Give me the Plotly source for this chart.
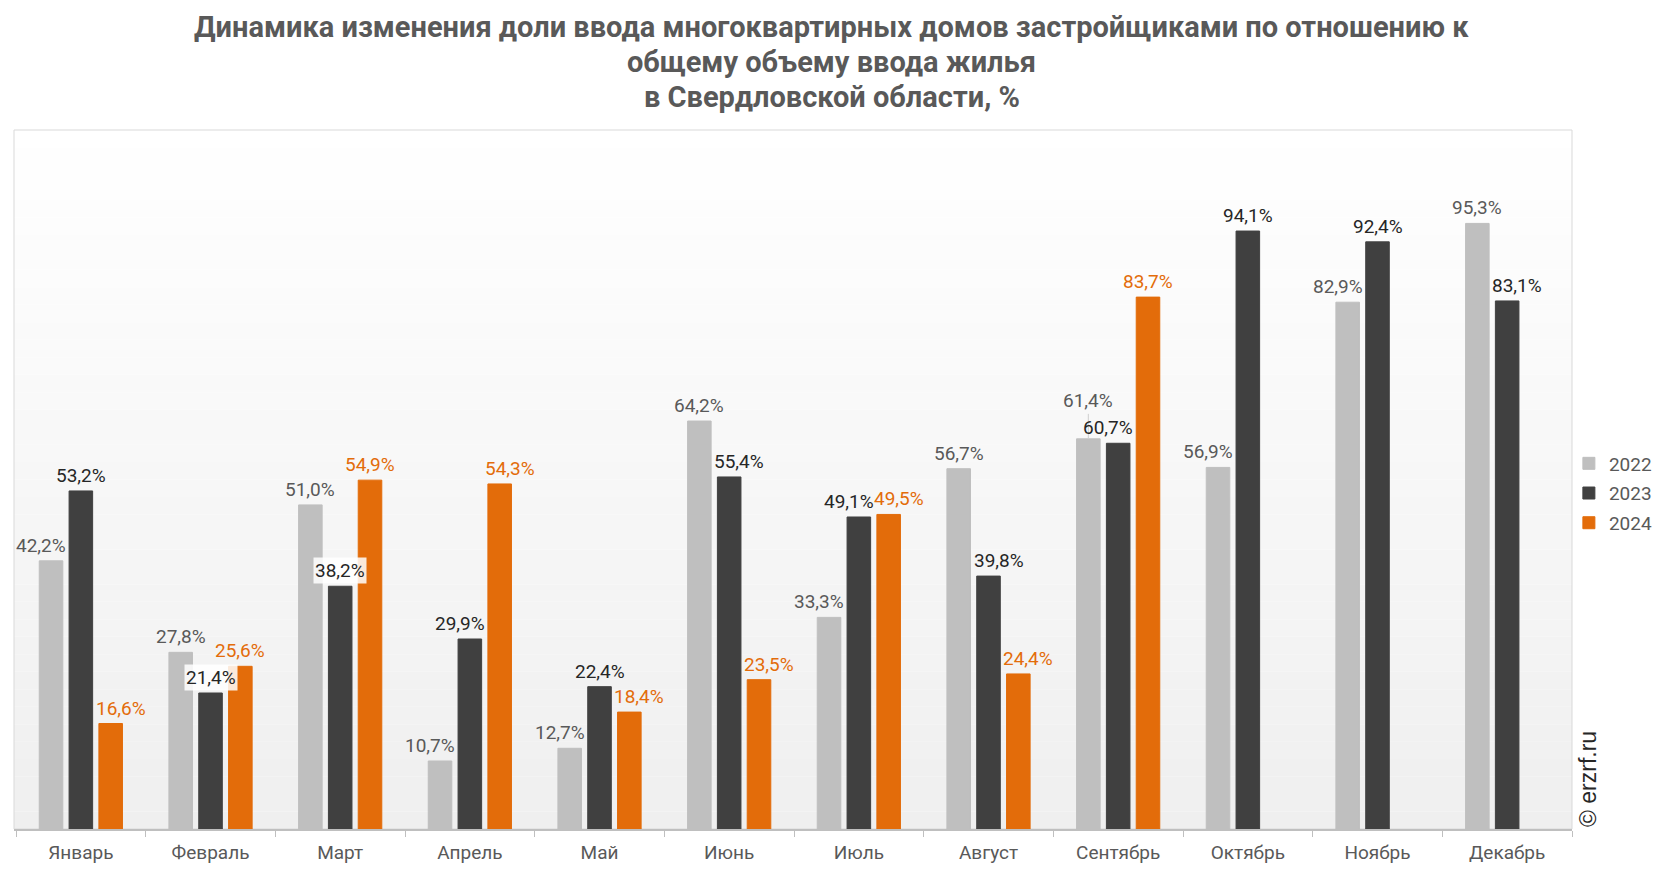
import plotly.graph_objects as go

months = ["Январь", "Февраль", "Март", "Апрель", "Май", "Июнь", "Июль",
          "Август", "Сентябрь", "Октябрь", "Ноябрь", "Декабрь"]
y2022 = [42.2, 27.8, 51.0, 10.7, 12.7, 64.2, 33.3, 56.7, 61.4, 56.9, 82.9, 95.3]
y2023 = [53.2, 21.4, 38.2, 29.9, 22.4, 55.4, 49.1, 39.8, 60.7, 94.1, 92.4, 83.1]
y2024 = [16.6, 25.6, 54.9, 54.3, 18.4, 23.5, 49.5, 24.4, 83.7, None, None, None]

series = [
    ("2022", y2022, "#BFBFBF", "#595959"),
    ("2023", y2023, "#404040", "#262626"),
    ("2024", y2024, "#E36C0A", "#E36C0A"),
]

# label placement tweaks (style only): horizontal nudges in px
nudge_left = {("2022", m) for m in ["Январь", "Апрель", "Май", "Июль", "Октябрь", "Ноябрь"]} | \
             {("2023", m) for m in ["Апрель", "Июль", "Сентябрь"]}
nudge_right = {("2024", m) for m in ["Январь", "Апрель", "Май", "Июнь", "Июль", "Август"]} | \
              {("2023", m) for m in ["Июнь", "Август", "Декабрь"]}
boxed = {("2023", "Февраль"), ("2023", "Март")}
leader = {("2022", "Сентябрь")}


def fmt(v):
    return f"{v:.1f}%".replace(".", ",")


L, R, T, B = 6, 86, 122, 35
W, H = 1650, 856
plot_w = W - L - R
bargap, bargroupgap = 0.31, 0.21
pitch = plot_w / len(months) * (1 - bargap) / len(series)

fig = go.Figure()
annotations = []
for k, (name, vals, col, tcol) in enumerate(series):
    fig.add_trace(go.Bar(
        x=months, y=vals, name=name, legendgroup=name,
        marker=dict(color=col, line=dict(color=col, width=1)),
    ))
    for m, v in zip(months, vals):
        if v is None:
            continue
        xs = (k - 1) * pitch
        if (name, m) in nudge_left:
            xs -= 10
        if (name, m) in nudge_right:
            xs += 10
        a = dict(x=m, y=v, xref="x", yref="y", text=fmt(v), xshift=xs,
                 font=dict(family="Roboto", size=19, color=tcol))
        if (name, m) in leader:
            a.update(showarrow=True, arrowhead=0, arrowwidth=1, arrowcolor="#CFCFCF",
                     ax=0, ay=-38, standoff=0)
        else:
            a.update(showarrow=False, yanchor="bottom", yshift=2)
        if (name, m) in boxed:
            a.update(bgcolor="rgba(255,255,255,0.85)", borderpad=1)
        annotations.append(a)

# gradient background for plot area
shapes = []
n = 40
for i in range(n):
    t = i / n
    c = int(round(255 - (255 - 239) * (1 - (i + 0.5) / n)))
    shapes.append(dict(type="rect", xref="paper", yref="paper",
                       x0=0, x1=1, y0=t, y1=(i + 1) / n,
                       fillcolor=f"rgb({c},{c},{c})", line=dict(width=0),
                       layer="below"))
shapes.append(dict(type="rect", xref="paper", yref="paper", x0=0, x1=1, y0=0, y1=1,
                   line=dict(color="#D9D9D9", width=1), fillcolor="rgba(0,0,0,0)",
                   layer="below"))

title_lines = ["Динамика изменения доли ввода многоквартирных домов застройщиками по отношению к",
               "общему объему ввода жилья",
               "в Свердловской области, %"]
title_centers = [18.5, 53.6, 88.7]  # px from top of figure
plot_h = H - T - B
for line, yc in zip(title_lines, title_centers):
    annotations.append(dict(text=f"<b>{line}</b>", xref="paper", yref="paper",
                            x=0.525, y=1 + (T - yc) / plot_h,
                            xanchor="center", yanchor="middle", showarrow=False,
                            font=dict(family="Roboto", size=29, color="#595959")))

annotations.append(dict(text="© erzrf.ru", textangle=-90, xref="paper", yref="paper",
                        x=1.0103, y=0.0, xanchor="center", yanchor="bottom",
                        showarrow=False,
                        font=dict(family="Liberation Sans", size=23, color="#262626")))

fig.update_layout(
    width=W, height=H,
    paper_bgcolor="white", plot_bgcolor="rgba(0,0,0,0)",
    margin=dict(l=L, r=R, t=T, b=B, autoexpand=False),
    barmode="group", bargap=bargap, bargroupgap=bargroupgap,
    showlegend=True,
    legend=dict(x=0.998, xanchor="left", y=0.48, yanchor="middle",
                font=dict(family="Roboto", size=19, color="#595959"),
                bgcolor="rgba(0,0,0,0)", itemwidth=30, tracegroupgap=2),
    xaxis=dict(showgrid=False, showline=True, linecolor="#BFBFBF", linewidth=1.5,
               ticks="outside", tickson="boundaries", ticklen=6, tickcolor="#BFBFBF",
               ticklabelstandoff=5,
               tickfont=dict(family="Roboto", size=19, color="#595959")),
    yaxis=dict(range=[0, 110], visible=False, showgrid=False, zeroline=False),
    shapes=shapes,
    annotations=annotations,
)

fig.write_html("out.html")
